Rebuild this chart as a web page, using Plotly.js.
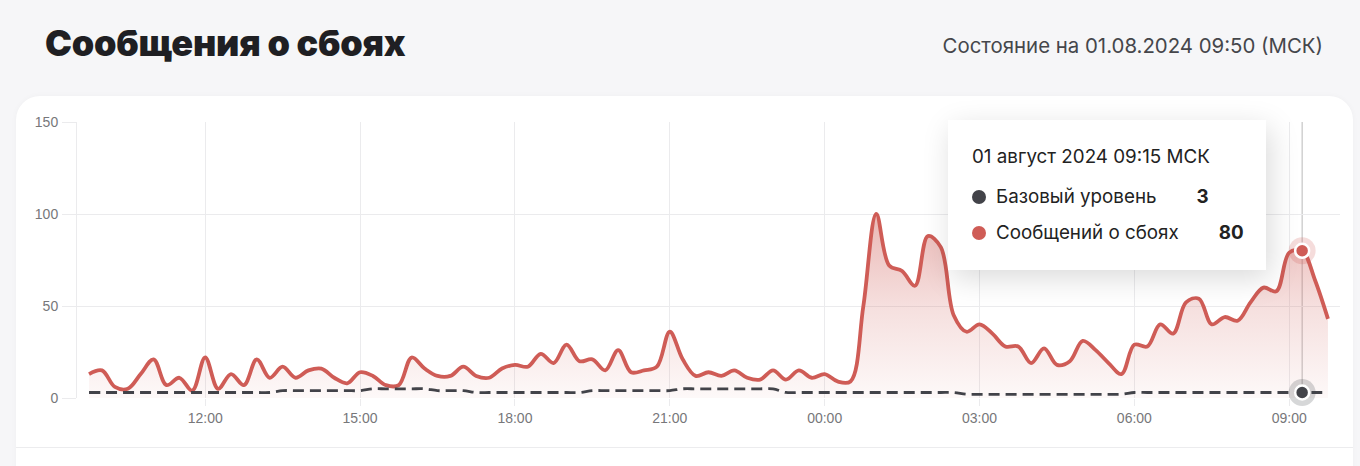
<!DOCTYPE html>
<html>
<head>
<meta charset="utf-8">
<script src="https://cdn.plot.ly/plotly-3.0.1.min.js"></script>
<style>
  html, body { margin:0; padding:0; width:1360px; height:466px; overflow:hidden; background:#f6f6f8; font-family: Inter, "Noto Sans", sans-serif; }
  #title { position:absolute; left:45px; top:21px; font-family: Inter, "Noto Sans", sans-serif; font-weight:900; font-size:36px; color:#1f1f23; letter-spacing:-0.25px; white-space:nowrap; }
  #subtitle { position:absolute; right:37px; top:33px; font-family: Inter, "Noto Sans", sans-serif; font-size:20.4px; color:#45464b; white-space:nowrap; }
  #card { position:absolute; left:16px; top:96px; width:1337px; height:420px; background:#ffffff; border-radius:24px; box-shadow:0 0 6px rgba(0,0,0,0.03); }
  #sep { position:absolute; left:16px; top:447px; width:1337px; height:1px; background:#ececee; }
  #plot { position:absolute; left:0; top:0; width:1360px; height:466px; }
  #tip { position:absolute; left:948px; top:120px; width:318px; height:150px; background:#fff; box-shadow:4px 8px 28px rgba(0,0,0,0.15); font-family: Inter, "Noto Sans", sans-serif; color:#222; }
  #tip .hd { position:absolute; left:24px; top:25px; font-size:18.8px; white-space:nowrap; }
  #tip .row { position:absolute; left:24px; font-size:18.8px; white-space:nowrap; display:flex; align-items:center; }
  #tip .dot { width:14px; height:14px; border-radius:50%; margin-right:10px; }
  #tip .val { font-weight:700; margin-left:40px; }
</style>
</head>
<body>
<div id="title">Сообщения о сбоях</div>
<div id="subtitle">Состояние на 01.08.2024 09:50 (МСК)</div>
<div id="card"></div>
<div id="sep"></div>
<div id="plot"></div>
<div id="tip"></div>
<script>
// ---- data (15-minute steps, 31.07.2024 09:45 → 01.08.2024 09:45, MSK) ----
const startTime = Date.UTC(2024, 6, 31, 9, 45);
const stepMinutes = 15;

const reports = [
  13, 15, 6, 5, 13, 21, 7, 11, 4, 22,
  5, 13, 7, 21, 11, 17, 11, 15, 16, 11,
  8, 14, 12, 7, 7, 22, 16, 12, 12, 17,
  12, 11, 16, 18, 17, 24, 19, 29, 20, 21,
  15, 26, 14, 15, 17, 36, 21, 12, 14, 12,
  15, 11, 10, 15, 10, 15, 11, 13, 9, 9,
  50, 100, 72, 69, 61, 88, 82, 45, 36, 40,
  35, 28, 28, 19, 27, 18, 20, 31, 26, 19,
  13, 29, 28, 40, 35, 52, 54, 40, 44, 42,
  52, 60, 58, 79, 80, 64, 43
];

const baseline = [
  3, 3, 3, 3, 3, 3, 3, 3, 3, 3,
  3, 3, 3, 3, 3, 4, 4, 4, 4, 4,
  4, 4, 5, 5, 5, 5, 5, 4, 4, 4,
  3, 3, 3, 3, 3, 3, 3, 3, 3, 4,
  4, 4, 4, 4, 4, 4, 5, 5, 5, 5,
  5, 5, 5, 5, 3, 3, 3, 3, 3, 3,
  3, 3, 3, 3, 3, 3, 3, 3, 2, 2,
  2, 2, 2, 2, 2, 2, 2, 2, 2, 2,
  2, 3, 3, 3, 3, 3, 3, 3, 3, 3,
  3, 3, 3, 3, 3, 3, 3
];

const seriesNames = ['Базовый уровень', 'Сообщений о сбоях'];
const monthNames = ['январь','февраль','март','апрель','май','июнь','июль','август','сентябрь','октябрь','ноябрь','декабрь'];
const hoverIndex = 94;
const yTicks = [0, 50, 100, 150];

const times = reports.map((_, k) => {
  const d = new Date(startTime + k * stepMinutes * 60000);
  return d.toISOString().slice(0, 16).replace('T', ' ');
});

// ---- styles ----
const red = '#cf5c56';
const dark = '#424349';
const grid = '#ebebed';

const traces = [
  {
    x: times, y: reports, type: 'scatter', mode: 'lines', name: seriesNames[1],
    line: { color: red, width: 3.8, shape: 'spline', smoothing: 1 },
    fill: 'tozeroy',
    fillgradient: { type: 'vertical', start: 0, stop: 100,
      colorscale: [[0, 'rgba(208,96,90,0.04)'], [0.5, 'rgba(208,96,90,0.2)'], [1, 'rgba(208,96,90,0.45)']] },
    hoverinfo: 'skip'
  },
  {
    x: times, y: baseline, type: 'scatter', mode: 'lines', name: seriesNames[0],
    line: { color: dark, width: 2.8, dash: '11px,6px', shape: 'spline' },
    hoverinfo: 'skip'
  },
  // hover halos + markers
  {
    x: [times[hoverIndex], times[hoverIndex]], y: [reports[hoverIndex], baseline[hoverIndex]],
    type: 'scatter', mode: 'markers',
    marker: { size: 27, color: ['rgba(208,96,90,0.22)', 'rgba(70,71,77,0.22)'], line: { width: 0 } },
    hoverinfo: 'skip', cliponaxis: false
  },
  {
    x: [times[hoverIndex], times[hoverIndex]], y: [reports[hoverIndex], baseline[hoverIndex]],
    type: 'scatter', mode: 'markers',
    marker: { size: 14, color: [red, dark], line: { width: 2.5, color: '#ffffff' } },
    hoverinfo: 'skip', cliponaxis: false
  }
];

const layout = {
  width: 1360, height: 466,
  margin: { l: 77, r: 20, t: 122, b: 68 },
  paper_bgcolor: 'rgba(0,0,0,0)',
  plot_bgcolor: 'rgba(0,0,0,0)',
  showlegend: false,
  font: { family: '"Liberation Sans", Arial, sans-serif', size: 14, color: '#77777a' },
  xaxis: {
    type: 'date',
    range: ['2024-07-31 09:31', '2024-08-01 09:59'],
    tick0: '2024-07-31 00:00', dtick: 3 * 3600 * 1000,
    tickformat: '%H:%M',
    showgrid: true, gridcolor: grid, gridwidth: 1,
    ticks: 'outside', ticklen: 7, tickcolor: grid,
    showline: false, zeroline: false,
    tickfont: { size: 14, color: '#77777a' }
  },
  yaxis: {
    range: [0, 150], tickvals: yTicks, ticktext: yTicks.map(String),
    showgrid: true, gridcolor: grid, gridwidth: 1,
    ticks: 'outside', ticklen: 14, tickcolor: grid,
    showline: true, linecolor: grid, linewidth: 1,
    zeroline: false,
    ticklabelstandoff: 1,
    tickfont: { size: 14, color: '#77777a' }
  },
  shapes: [
    { type: 'line', xref: 'x', yref: 'paper', x0: times[hoverIndex], x1: times[hoverIndex], y0: 0, y1: 1,
      line: { color: 'rgba(0,0,0,0.28)', width: 1 }, layer: 'below' }
  ]
};

Plotly.newPlot('plot', traces, layout, { staticPlot: true, displayModeBar: false });

// ---- tooltip content from data ----
(function () {
  const d = new Date(startTime + hoverIndex * stepMinutes * 60000);
  const dd = String(d.getUTCDate()).padStart(2, '0');
  const hh = String(d.getUTCHours()).padStart(2, '0');
  const mm = String(d.getUTCMinutes()).padStart(2, '0');
  const head = dd + ' ' + monthNames[d.getUTCMonth()] + ' ' + d.getUTCFullYear() + ' ' + hh + ':' + mm + ' МСК';
  const tip = document.getElementById('tip');
  tip.innerHTML =
    '<div class="hd">' + head + '</div>' +
    '<div class="row" style="top:65px"><span class="dot" style="background:' + dark + '"></span>' + seriesNames[0] + '<span class="val">' + baseline[hoverIndex] + '</span></div>' +
    '<div class="row" style="top:101px"><span class="dot" style="background:' + red + '"></span>' + seriesNames[1] + '<span class="val">' + reports[hoverIndex] + '</span></div>';
})();
</script>
</body>
</html>
